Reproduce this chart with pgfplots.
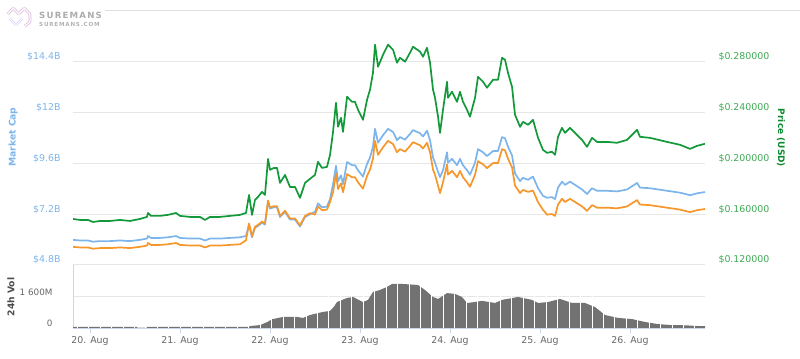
\documentclass[border=0pt]{standalone}
\usepackage{pgfplots}
\pgfplotsset{compat=1.18}
\usepackage{pgfplotstable}
\usepackage{fontspec}
\setmainfont{DejaVu Sans}
\newfontfamily\logofont[LetterSpace=14]{DejaVu Sans}
\definecolor{mcap}{HTML}{7CB5EC}
\definecolor{price}{HTML}{13993A}
\definecolor{pricelab}{HTML}{3DAA55}
\definecolor{pricetitle}{HTML}{0E8A30}
\definecolor{btc}{HTML}{F7962A}
\definecolor{vol}{HTML}{727272}
\definecolor{gridc}{HTML}{E6E6E6}
\definecolor{axisc}{HTML}{CCD6EB}
\definecolor{labc}{HTML}{666666}
\newcommand\tf{\fontsize{9.4bp}{11bp}\selectfont}

\pgfplotstableread{
day price mcap btc
-0.189 0.1563 5.99 5.66
-0.111 0.1555 5.96 5.63
-0.022 0.1555 5.96 5.63
0.033 0.1539 5.90 5.57
0.111 0.1547 5.93 5.60
0.222 0.1547 5.93 5.60
0.333 0.1555 5.96 5.63
0.444 0.1547 5.93 5.60
0.556 0.1563 5.99 5.66
0.633 0.1579 6.05 5.72
0.644 0.1610 6.17 5.84
0.678 0.1587 6.08 5.75
0.778 0.1587 6.08 5.75
0.867 0.1595 6.11 5.78
0.956 0.1610 6.17 5.84
1.000 0.1587 6.08 5.75
1.111 0.1579 6.05 5.72
1.222 0.1579 6.05 5.72
1.278 0.1555 5.96 5.63
1.333 0.1579 6.05 5.72
1.444 0.1579 6.05 5.72
1.556 0.1587 6.08 5.75
1.667 0.1595 6.11 5.78
1.733 0.1610 6.17 5.97
1.767 0.1752 6.71 6.76
1.800 0.1595 6.11 6.16
1.833 0.1713 6.56 6.61
1.867 0.1737 6.65 6.70
1.911 0.1776 6.80 6.85
1.944 0.1752 6.71 6.76
1.978 0.2036 7.80 7.85
2.000 0.1950 7.47 7.52
2.044 0.1965 7.53 7.58
2.078 0.1965 7.53 7.58
2.111 0.1847 7.07 7.12
2.167 0.1910 7.32 7.37
2.222 0.1815 6.95 7.00
2.278 0.1815 6.95 7.00
2.333 0.1729 6.62 6.67
2.389 0.1847 7.07 7.12
2.444 0.1879 7.20 7.25
2.500 0.1910 7.32 7.18
2.533 0.2013 7.71 7.57
2.578 0.1965 7.53 7.39
2.633 0.1973 7.56 7.42
2.667 0.2068 7.92 7.78
2.700 0.2249 8.62 8.24
2.733 0.2478 9.49 9.11
2.756 0.2289 8.77 8.39
2.789 0.2360 9.04 8.66
2.811 0.2249 8.62 8.24
2.856 0.2526 9.67 9.10
2.911 0.2486 9.52 8.95
2.944 0.2486 9.52 8.95
2.978 0.2423 9.28 8.71
3.033 0.2344 8.98 8.41
3.078 0.2502 9.58 9.01
3.111 0.2581 9.88 9.31
3.144 0.2715 10.40 9.83
3.167 0.2936 11.24 10.67
3.200 0.2762 10.58 10.01
3.256 0.2857 10.94 10.37
3.311 0.2936 11.24 10.67
3.367 0.2896 11.09 10.52
3.411 0.2794 10.70 10.13
3.444 0.2833 10.85 10.28
3.500 0.2802 10.73 10.16
3.556 0.2873 11.00 10.43
3.589 0.2920 11.18 10.61
3.667 0.2881 11.03 10.46
3.700 0.2841 10.88 10.31
3.744 0.2912 11.15 10.58
3.778 0.2794 10.70 10.13
3.811 0.2581 9.88 9.31
3.833 0.2518 9.64 9.07
3.867 0.2368 9.20 8.55
3.889 0.2241 8.95 8.20
3.922 0.2423 9.28 8.71
3.967 0.2644 10.13 9.56
3.978 0.2518 9.64 9.07
4.022 0.2565 9.82 9.25
4.078 0.2486 9.52 8.95
4.111 0.2565 9.82 9.25
4.144 0.2486 9.52 8.95
4.189 0.2423 9.28 8.71
4.222 0.2368 9.07 8.50
4.278 0.2518 9.64 9.07
4.311 0.2683 10.28 9.71
4.367 0.2644 10.13 9.56
4.411 0.2597 9.95 9.38
4.478 0.2660 10.19 9.62
4.533 0.2660 10.19 9.62
4.578 0.2833 10.85 10.28
4.611 0.2817 10.79 10.22
4.644 0.2715 10.40 9.83
4.689 0.2604 9.98 9.41
4.722 0.2384 9.13 8.56
4.778 0.2289 8.77 8.20
4.811 0.2328 8.92 8.35
4.867 0.2305 8.83 8.26
4.922 0.2344 8.98 8.32
4.978 0.2202 8.43 7.77
5.033 0.2107 8.07 7.41
5.078 0.2084 7.98 7.18
5.133 0.2092 8.01 7.21
5.167 0.2068 7.92 7.12
5.200 0.2210 8.46 7.66
5.244 0.2281 8.74 7.93
5.278 0.2241 8.59 7.78
5.333 0.2281 8.74 7.93
5.389 0.2241 8.59 7.78
5.467 0.2186 8.37 7.57
5.522 0.2131 8.16 7.36
5.578 0.2202 8.43 7.63
5.633 0.2170 8.31 7.51
5.744 0.2170 8.31 7.51
5.856 0.2163 8.28 7.48
5.967 0.2186 8.37 7.57
6.078 0.2265 8.68 7.87
6.111 0.2210 8.46 7.66
6.222 0.2202 8.43 7.63
6.411 0.2170 8.31 7.51
6.556 0.2147 8.22 7.42
6.667 0.2115 8.10 7.30
6.744 0.2139 8.19 7.39
6.833 0.2155 8.25 7.45
}\maindata

\pgfplotstableread{
day vol
-0.189 60
0.522 60
0.523 0
0.633 0
0.634 60
1.767 60
1.778 100
1.889 150
1.967 300
2.022 450
2.144 570
2.300 570
2.367 520
2.444 670
2.589 830
2.667 880
2.711 1100
2.744 1340
2.856 1550
2.922 1600
3.033 1340
3.089 1450
3.144 1860
3.222 1960
3.300 2120
3.356 2270
3.478 2270
3.644 2220
3.722 1960
3.811 1600
3.867 1500
3.967 1800
4.056 1760
4.133 1600
4.189 1290
4.278 1340
4.356 1400
4.500 1290
4.578 1450
4.756 1600
4.911 1450
4.978 1290
5.089 1340
5.222 1500
5.356 1290
5.500 1290
5.611 1080
5.722 670
5.867 520
6.022 460
6.167 310
6.311 200
6.467 150
6.611 140
6.756 100
6.833 100
}\voldata

\begin{document}
\begin{tikzpicture}
\path[use as bounding box] (0,0) rectangle (800bp,359bp);

% logo
\draw[color=gray!25, line width=0.6bp] (105bp,349bp) -- (800bp,349bp);
\draw[color=violet!30, double=white, double distance=1.3bp, line width=0.7bp, rounded corners=1.2bp]
  (8bp,345bp) -- (13bp,351bp) -- (19bp,345bp) -- (24bp,351bp) -- (30bp,345bp) -- (30bp,337bp) -- (25bp,333bp);
\draw[color=blue!25, double=white, double distance=1.1bp, line width=0.6bp, rounded corners=1bp]
  (10bp,340bp) -- (16bp,334bp) -- (22bp,340bp);
\node[font=\logofont\bfseries\fontsize{8.6bp}{10bp}\selectfont, color=gray!65, anchor=west, inner sep=0pt] at (39bp,344bp) {SUREMANS};
\node[font=\logofont\bfseries\fontsize{5.6bp}{7bp}\selectfont, color=gray!60, anchor=west, inner sep=0pt] at (39bp,335bp) {SUREMANS.COM};

% main panel: market cap axis
\begin{axis}[
  at={(73bp,94bp)}, anchor=south west, scale only axis,
  width=632bp, height=225bp,
  xmin=-0.189, xmax=6.833, ymin=4.8, ymax=15.44,
  axis line style={draw=none}, xtick=\empty,
  ytick={4.8,7.2,9.6,12,14.4},
  yticklabels={\$4.8B,\$7.2B,\$9.6B,\$12B,\$14.4B},
  ymajorgrids, grid style={gridc, line width=1bp},
  ytick style={draw=none},
  yticklabel style={font=\tf, color=mcap, anchor=east, xshift=-9bp, yshift=5bp},
]
\addplot[mcap, line width=1.7bp, line join=round] table[x=day, y=mcap] {\maindata};
\addplot[btc, line width=1.7bp, line join=round] table[x=day, y=btc] {\maindata};
\end{axis}

% main panel: price axis
\begin{axis}[
  at={(73bp,94bp)}, anchor=south west, scale only axis,
  width=632bp, height=225bp,
  xmin=-0.189, xmax=6.833, ymin=0.12, ymax=0.2973,
  axis line style={draw=none}, xtick=\empty,
  ytick={0.12,0.16,0.20,0.24,0.28},
  yticklabels={\$0.120000,\$0.160000,\$0.200000,\$0.240000,\$0.280000},
  ytick pos=right, yticklabel pos=right,
  ytick style={draw=none},
  yticklabel style={font=\tf, color=pricelab, anchor=west, xshift=10bp, yshift=5bp},
]
\addplot[price, line width=1.7bp, line join=round] table[x=day, y=price] {\maindata};
\end{axis}

% volume panel
\begin{axis}[
  at={(73bp,31bp)}, anchor=south west, scale only axis,
  width=632bp, height=63bp,
  xmin=-0.189, xmax=6.833, ymin=0, ymax=3250,
  axis x line=bottom, axis y line=left,
  axis line style={axisc, line width=0.8bp, -},
  xtick={0,1,2,3,4,5,6},
  xticklabels={20. Aug,21. Aug,22. Aug,23. Aug,24. Aug,25. Aug,26. Aug},
  tick align=outside, major tick length=5bp,
  xtick style={axisc, line width=0.8bp},
  ytick={0,1600}, yticklabels={0,1 600M},
  ytick style={draw=none},
  ymajorgrids, grid style={gridc, line width=1bp},
  xticklabel style={font=\tf, color=labc},
  yticklabel style={font=\fontsize{8.8bp}{11bp}\selectfont, color=labc, anchor=east, xshift=-12bp, yshift=5bp},
]
\addplot[fill=vol, draw=none] table[x=day, y=vol] {\voldata} \closedcycle;
\addplot[ycomb, white, line width=0.9bp, mark=none] coordinates {
(-0.142,1000) (-0.015,1000) (0.112,1000) (0.239,1000) (0.366,1000) (0.494,1000)
(0.621,1000) (0.748,1000) (0.875,1000) (1.002,1000) (1.129,1000) (1.256,1000)
(1.383,1000) (1.510,1000) (1.637,1000) (1.765,1000) (1.892,1000) (2.019,1000)
(2.146,1000) (2.273,1000) (2.400,1000) (2.527,1000) (2.654,2400) (2.781,2400)
(2.908,2400) (3.036,2400) (3.163,2400) (3.290,2400) (3.417,2400) (3.544,2400)
(3.671,2400) (3.798,2400) (3.925,2400) (4.052,2400) (4.179,2400) (4.307,2400)
(4.434,2400) (4.561,2400) (4.688,2400) (4.815,2400) (4.942,2400) (5.069,2400)
(5.196,2400) (5.323,2400) (5.450,2400) (5.578,2400) (5.705,1000) (5.832,1000)
(5.959,1000) (6.086,1000) (6.213,1000) (6.340,1000) (6.467,1000) (6.594,1000)
(6.721,1000)};
\end{axis}

% axis titles
\node[rotate=90, font=\bfseries\fontsize{9.2bp}{11bp}\selectfont, color=mcap] at (13bp,222bp) {Market Cap};
\node[rotate=-90, font=\bfseries\fontsize{9bp}{11bp}\selectfont, color=pricetitle] at (781bp,221bp) {Price (USD)};
\node[rotate=90, font=\bfseries\fontsize{9.2bp}{11bp}\selectfont, color=black!70] at (11bp,62bp) {24h Vol};
\end{tikzpicture}
\end{document}
